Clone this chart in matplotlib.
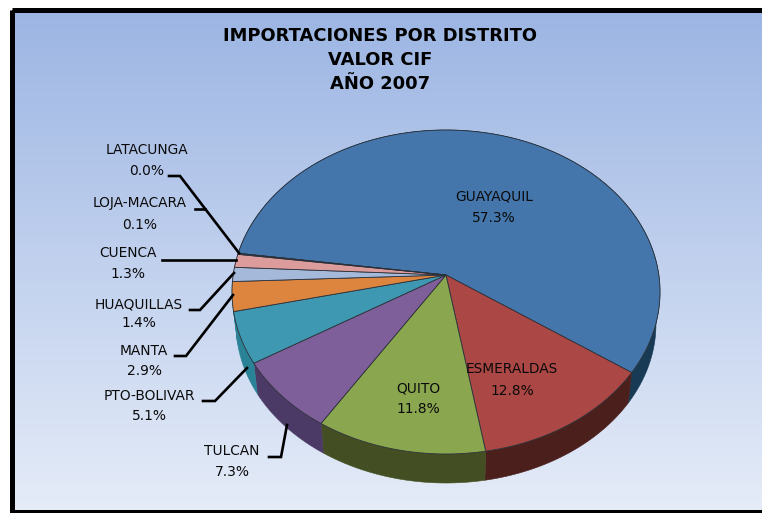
import matplotlib
matplotlib.use('Agg')
import matplotlib.pyplot as plt
from matplotlib.patches import Polygon, Rectangle
import numpy as np

# datos del grafico
distritos = ['GUAYAQUIL', 'ESMERALDAS', 'QUITO', 'TULCAN', 'PTO-BOLIVAR', 'MANTA',
             'HUAQUILLAS', 'CUENCA', 'LOJA-MACARA', 'LATACUNGA']
valores = [57.3, 12.8, 11.8, 7.3, 5.1, 2.9, 1.4, 1.3, 0.1, 0.0]
titulo = ['IMPORTACIONES POR DISTRITO', 'VALOR CIF', 'AÑO 2007']

colores = ['#4476ab', '#ab4744', '#8aa64f', '#7f5f9a', '#3f98b2', '#dd853e',
           '#a5b9db', '#dc9c9b', '#5a7fb0', '#a0b040']
colores_lado = ['#183a55', '#4a1f1c', '#434f22', '#4c3a66', '#2a8296', '#2a8296',
                '#6a7a98', '#8a5a5a', '#34506f', '#606a25']

# geometria en pixeles
cx, cy = 446, 292       # centro de la elipse superior
ax_top, by_top = 214, 162
apex_y = 275            # punto donde se juntan las tajadas (perspectiva)
cy_bot, ax_bot, by_bot = 324, 210, 159
inicio = 29.6

fig = plt.figure(figsize=(7.62, 5.13), dpi=100)
ax = fig.add_axes([0, 0, 1, 1])
ax.set_xlim(0, 762)
ax.set_ylim(513, 0)
ax.axis('off')

# fondo degradado
c1 = np.array(matplotlib.colors.to_rgb('#9cb5e3'))
c2 = np.array(matplotlib.colors.to_rgb('#e5ecf8'))
g = np.linspace(0, 1, 256)[:, None, None]
ax.imshow(c1 + (c2 - c1) * g, extent=(12, 770, 511, 10), aspect='auto', zorder=0)
ax.set_xlim(0, 762)
ax.set_ylim(513, 0)
ax.add_patch(Rectangle((11.5, 9.5), 780, 502.5, fill=False, ec='black', lw=3.6, zorder=1))


def angulo(t):
    # correccion de perspectiva del 3D
    return t + 5 + 5.5 * np.cos(np.radians(t - 180))


acum = 0.0
tramos = []
for v in valores[1:] + valores[:1]:
    tramos.append((inicio + acum * 3.6, inicio + (acum + v) * 3.6))
    acum += v
tramos = tramos[-1:] + tramos[:-1]

# paredes laterales
for (t0, t1), col in zip(tramos, colores_lado):
    t = np.radians(angulo(np.linspace(t0, t1, 120)))
    arriba = np.c_[cx + ax_top * np.cos(t), cy + by_top * np.sin(t)]
    abajo = np.c_[cx + ax_bot * np.cos(t), cy_bot + by_bot * np.sin(t)]
    ax.add_patch(Polygon(np.r_[arriba, abajo[::-1]], fc=col, ec=col, lw=0.4, zorder=2))

# cara superior
for (t0, t1), col in zip(tramos, colores):
    t = np.radians(angulo(np.linspace(t0, t1, 200)))
    arco = np.c_[cx + ax_top * np.cos(t), cy + by_top * np.sin(t)]
    ax.add_patch(Polygon(np.r_[[[cx, apex_y]], arco], fc=col, ec='#2b3038', lw=0.6, zorder=3))

# etiquetas
pos_etiquetas = [(494, 196), (512, 369), (418, 388), (232, 451), (149, 396), (144, 351),
                 (139, 304), (128, 253), (140, 203), (147, 150)]
sep = [22, 22, 21, 21, 20, 20, 19, 21, 22, 21]
for nombre, v, (x, y), s in zip(distritos, valores, pos_etiquetas, sep):
    ax.text(x, y, nombre, ha='center', va='center', fontsize=9.9, color='#0a0a0a', zorder=5)
    ax.text(x, y + s, f'{v:.1f}%', ha='center', va='center', fontsize=9.9, color='#0a0a0a', zorder=5)

# lineas guia
guias = [[(169, 176), (180, 176), (239, 253)],
         [(195, 208.5), (205, 208.5)],
         [(162, 260), (236, 260)],
         [(190, 310), (200, 310), (234, 273)],
         [(175, 356), (186, 356), (233, 295)],
         [(203, 401), (215, 401), (247, 368)],
         [(269, 457), (281, 457), (287, 425)]]
for g_ in guias:
    xs, ys = zip(*g_)
    ax.plot(xs, ys, color='black', lw=1.9, solid_joinstyle='miter', zorder=4)

for linea, y in zip(titulo, [36, 60, 84]):
    ax.text(380, y, linea, ha='center', va='center', fontsize=12.9, fontweight='bold',
            color='black', zorder=5)

fig.savefig('out.png', dpi=100)
plt.close(fig)
